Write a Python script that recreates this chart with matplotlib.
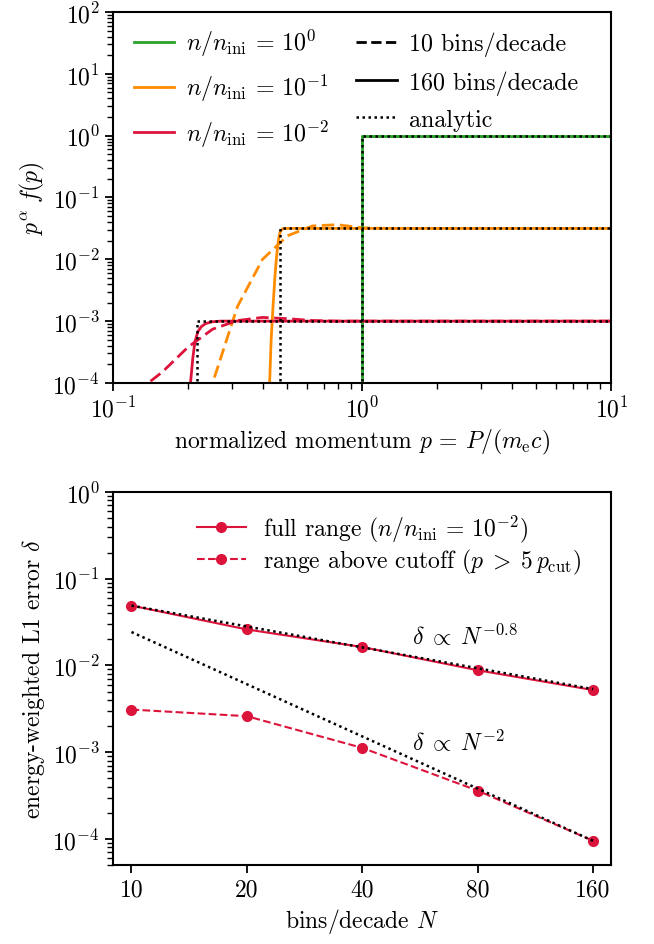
import numpy as np
import matplotlib
matplotlib.use("Agg")
import matplotlib.pyplot as plt
from matplotlib.lines import Line2D
from matplotlib.ticker import LogLocator, FixedLocator, FixedFormatter, NullLocator, NullFormatter

plt.rcParams['font.family'] = ['cmr10', 'DejaVu Serif']
plt.rcParams['mathtext.fontset'] = 'cm'
plt.rcParams['axes.formatter.use_mathtext'] = True
plt.rcParams['font.size'] = 17

# ---------------- data: top panel ----------------
# green, n/n_ini = 1
p_green = [1.0, 1.0, 10.0]
f_green = [1e-6, 1.0, 1.0]

# orange, n/n_ini = 0.1
p_orange_an = [0.466, 0.466, 10.0]
f_orange_an = [1e-6, 10**-1.5, 10**-1.5]
p_orange_160 = [0.42, 0.425, 0.431, 0.438, 0.446, 0.452, 0.458, 0.464, 0.47, 0.48, 0.50, 10.0]
logf_orange_160 = [-4.6, -4.0, -3.3, -2.8, -2.3, -2.0, -1.78, -1.62, -1.54, -1.505, -1.5, -1.5]
p_orange_10 = [0.2, 0.251, 0.316, 0.398, 0.501, 0.631, 0.794, 1.0, 1.259, 10.0]
logf_orange_10 = [-5.0, -4.0, -2.76, -2.0, -1.62, -1.46, -1.44, -1.49, -1.5, -1.5]

# red, n/n_ini = 0.01
p_red_an = [0.2174, 0.2174, 10.0]
f_red_an = [1e-6, 1e-3, 1e-3]
p_red_160 = [0.202, 0.2046, 0.209, 0.213, 0.219, 0.226, 0.235, 0.25, 0.27, 10.0]
logf_red_160 = [-4.4, -4.0, -3.6, -3.34, -3.17, -3.09, -3.04, -3.01, -3.0, -3.0]
p_red_10 = [0.1, 0.126, 0.158, 0.2, 0.251, 0.316, 0.398, 0.501, 0.631, 0.794, 10.0]
logf_red_10 = [-4.6, -4.13, -3.82, -3.42, -3.13, -2.99, -2.94, -2.96, -2.99, -3.0, -3.0]

# ---------------- data: bottom panel ----------------
N_bins = [10, 20, 40, 80, 160]
err_full = [0.049, 0.026, 0.0163, 0.0088, 0.0052]
err_above = [0.0031, 0.0026, 0.00112, 0.00036, 0.000095]
N_ref = [10, 160]
ref_08 = [0.049, 0.00533]
ref_2 = [0.0243, 0.000095]

c_green = '#2ca02c'
c_orange = '#ff8c00'
c_red = '#dc143c'

fig = plt.figure(figsize=(6.54, 9.45), dpi=100)
ax1 = fig.add_axes([0.1728, 0.5937, 0.7622, 0.3925])
ax2 = fig.add_axes([0.1728, 0.0836, 0.7622, 0.3947])

lw = 2.0
dot = (0, (1, 1.4))
dash = (0, (4.5, 2.0))
# dashed (10 bins)
ax1.plot(p_green, f_green, color=c_green, ls=dash, lw=lw)
ax1.plot(p_orange_10, 10**np.array(logf_orange_10), color=c_orange, ls=dash, lw=lw)
ax1.plot(p_red_10, 10**np.array(logf_red_10), color=c_red, ls=dash, lw=lw)
# solid (160 bins)
ax1.plot(p_green, f_green, color=c_green, ls='-', lw=lw)
ax1.plot(p_orange_160, 10**np.array(logf_orange_160), color=c_orange, ls='-', lw=lw)
ax1.plot(p_red_160, 10**np.array(logf_red_160), color=c_red, ls='-', lw=lw)
# analytic
for pp, ff in [(p_green, f_green), (p_orange_an, f_orange_an), (p_red_an, f_red_an)]:
    ax1.plot(pp, ff, color='black', ls=dot, lw=1.8)

ax1.set_xscale('log')
ax1.set_yscale('log')
ax1.set_xlim(0.1, 10)
ax1.set_ylim(1e-4, 1e2)
ax1.yaxis.set_major_locator(LogLocator(base=10, numticks=20))
ax1.yaxis.set_minor_locator(LogLocator(base=10, subs=np.arange(2, 10), numticks=20))
ax1.yaxis.set_minor_formatter(NullFormatter())
ax1.set_xlabel(r'normalized momentum $p$ = $P/(m_{\rm e}c)$')
ax1.set_ylabel(r'$p^{\alpha}\; f(p)$')

handles = [
    Line2D([], [], color=c_green, lw=lw, label=r'$n/n_{\rm ini}$ = $10^{0}$'),
    Line2D([], [], color=c_orange, lw=lw, label=r'$n/n_{\rm ini}$ = $10^{-1}$'),
    Line2D([], [], color=c_red, lw=lw, label=r'$n/n_{\rm ini}$ = $10^{-2}$'),
    Line2D([], [], color='black', lw=lw, ls='--', label='10 bins/decade'),
    Line2D([], [], color='black', lw=lw, ls='-', label='160 bins/decade'),
    Line2D([], [], color='black', lw=1.8, ls=dot, label='analytic'),
]
ax1.legend(handles=handles, ncol=2, loc='upper left', frameon=False,
           handlelength=1.69, handletextpad=0.5, columnspacing=1.1,
           labelspacing=0.58, borderpad=0, borderaxespad=0,
           bbox_to_anchor=(0.0415, 0.96), fontsize=17.3)

# bottom panel
ax2.plot(N_ref, ref_08, color='black', ls=dot, lw=1.8, zorder=3)
ax2.plot(N_ref, ref_2, color='black', ls=dot, lw=1.8, zorder=3)
ax2.plot(N_bins, err_full, color=c_red, ls='-', lw=1.5, marker='o', ms=7,
         label=r'full range ($n/n_{\rm ini}$ = $10^{-2}$)', zorder=2)
ax2.plot(N_bins, err_above, color=c_red, ls='--', lw=1.5, marker='o', ms=7,
         label=r'range above cutoff ($p\;>\;5\,p_{\rm cut}$)', zorder=2)
ax2.set_xscale('log')
ax2.set_yscale('log')
ax2.set_xlim(8.95, 178.7)
ax2.set_ylim(5e-5, 1)
ax2.xaxis.set_major_locator(FixedLocator(N_bins))
ax2.xaxis.set_major_formatter(FixedFormatter([str(n) for n in N_bins]))
ax2.xaxis.set_minor_locator(NullLocator())
ax2.yaxis.set_major_locator(LogLocator(base=10, numticks=20))
ax2.yaxis.set_minor_locator(LogLocator(base=10, subs=np.arange(2, 10), numticks=20))
ax2.yaxis.set_minor_formatter(NullFormatter())
ax2.set_xlabel(r'bins/decade $N$')
ax2.set_ylabel(r'energy-weighted L1 error $\delta$')
ax2.text(54, 0.022, r'$\delta \;\propto\; N^{-0.8}$', ha='left', va='center')
ax2.text(54, 1.3e-3, r'$\delta \;\propto\; N^{-2}$', ha='left', va='center')
ax2.legend(loc='upper left', frameon=False, handlelength=2.06, handletextpad=0.74,
           labelspacing=0.1, borderpad=0, borderaxespad=0,
           bbox_to_anchor=(0.1685, 0.944), fontsize=17)

for ax in (ax1, ax2):
    for s in ax.spines.values():
        s.set_linewidth(1.5)
    ax.tick_params(which='major', length=6, width=1.3, direction='out')
    ax.tick_params(which='minor', length=4.5, width=1.0, direction='out')

fig.savefig('out.png', dpi=100)
